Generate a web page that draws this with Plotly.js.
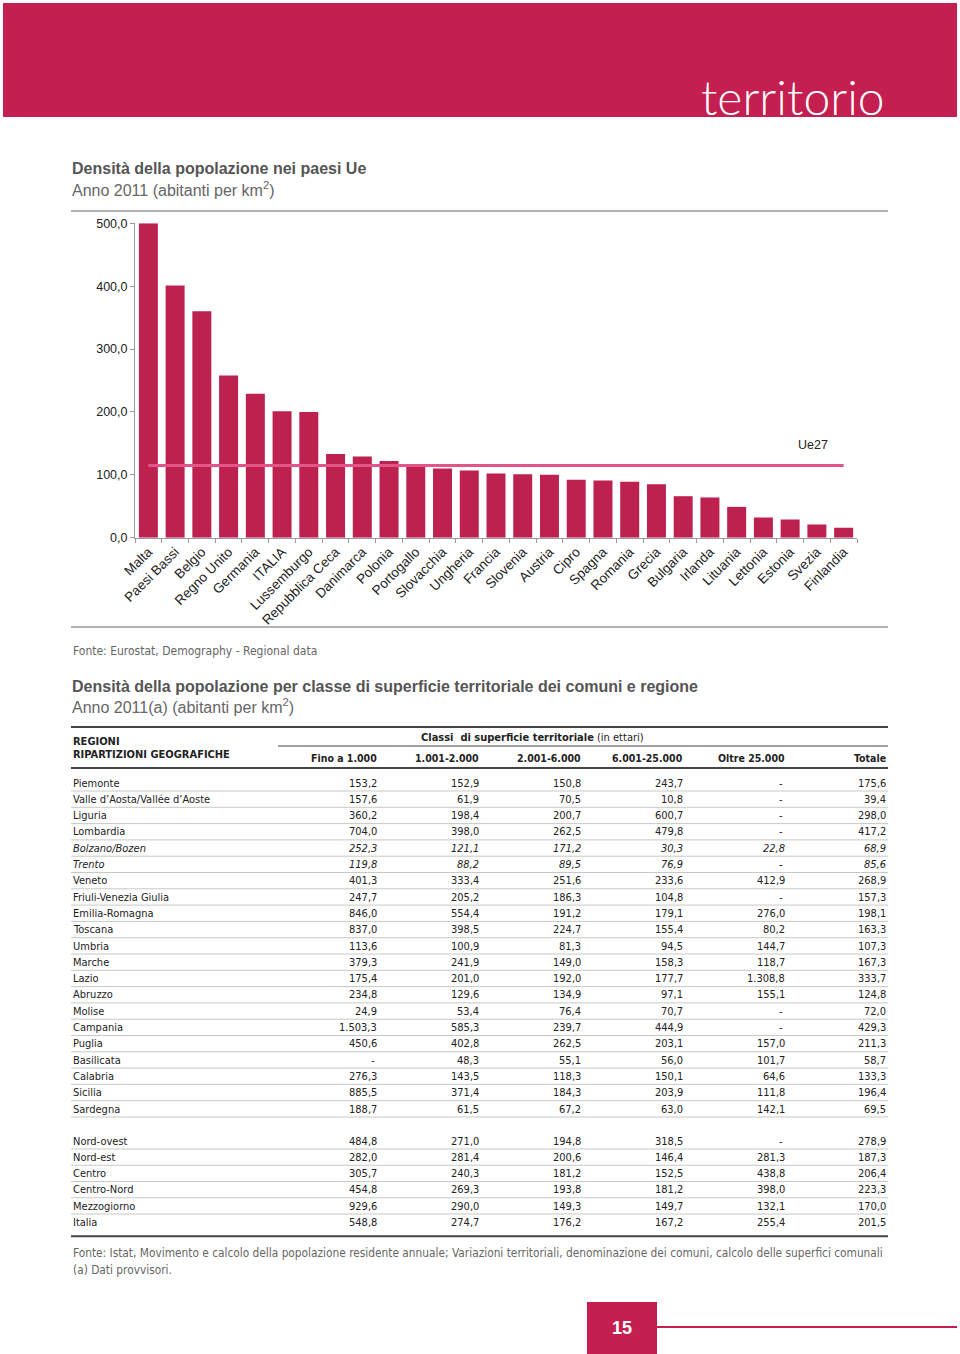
<!DOCTYPE html>
<html>
<head>
<meta charset="utf-8">
<script src="https://cdn.plot.ly/plotly-3.0.1.min.js"></script>
<style>
html,body{margin:0;padding:0;background:#fff;}
#chart{width:960px;height:1354px;}
</style>
</head>
<body>
<div id="chart"></div>
<script>
// ---------- Chart data ----------
const countries = ["Malta","Paesi Bassi","Belgio","Regno Unito","Germania","ITALIA","Lussemburgo","Repubblica Ceca","Danimarca","Polonia","Portogallo","Slovacchia","Ungheria","Francia","Slovenia","Austria","Cipro","Spagna","Romania","Grecia","Bulgaria","Irlanda","Lituania","Lettonia","Estonia","Svezia","Finlandia"];
const density = [500,401,360,258,229,201,200,133,129,122,115,110,107,102,101,100,92,91,89,85,66,64,49,32,29,21,16];
const ue27Label = "Ue27";
const ue27Value = 115;
const yTicks = [0,100,200,300,400,500];

// ---------- Table data ----------
const colHeaders = ["Fino a 1.000","1.001-2.000","2.001-6.000","6.001-25.000","Oltre 25.000","Totale"];
const regions = ["Piemonte","Valle d’Aosta/Vallée d’Aoste","Liguria","Lombardia","Bolzano/Bozen","Trento","Veneto","Friuli-Venezia Giulia","Emilia-Romagna","Toscana","Umbria","Marche","Lazio","Abruzzo","Molise","Campania","Puglia","Basilicata","Calabria","Sicilia","Sardegna"];
const italicRegions = ["Bolzano/Bozen","Trento"];
const regFino  = [153.2,157.6,360.2,704.0,252.3,119.8,401.3,247.7,846.0,837.0,113.6,379.3,175.4,234.8,24.9,1503.3,450.6,null,276.3,885.5,188.7];
const reg1001  = [152.9,61.9,198.4,398.0,121.1,88.2,333.4,205.2,554.4,398.5,100.9,241.9,201.0,129.6,53.4,585.3,402.8,48.3,143.5,371.4,61.5];
const reg2001  = [150.8,70.5,200.7,262.5,171.2,89.5,251.6,186.3,191.2,224.7,81.3,149.0,192.0,134.9,76.4,239.7,262.5,55.1,118.3,184.3,67.2];
const reg6001  = [243.7,10.8,600.7,479.8,30.3,76.9,233.6,104.8,179.1,155.4,94.5,158.3,177.7,97.1,70.7,444.9,203.1,56.0,150.1,203.9,63.0];
const regOltre = [null,null,null,null,22.8,null,412.9,null,276.0,80.2,144.7,118.7,1308.8,155.1,null,null,157.0,101.7,64.6,111.8,142.1];
const regTot   = [175.6,39.4,298.0,417.2,68.9,85.6,268.9,157.3,198.1,163.3,107.3,167.3,333.7,124.8,72.0,429.3,211.3,58.7,133.3,196.4,69.5];

const areas = ["Nord-ovest","Nord-est","Centro","Centro-Nord","Mezzogiorno","Italia"];
const areaFino  = [484.8,282.0,305.7,454.8,929.6,548.8];
const area1001  = [271.0,281.4,240.3,269.3,290.0,274.7];
const area2001  = [194.8,200.6,181.2,193.8,149.3,176.2];
const area6001  = [318.5,146.4,152.5,181.2,149.7,167.2];
const areaOltre = [null,281.3,438.8,398.0,132.1,255.4];
const areaTot   = [278.9,187.3,206.4,223.3,170.0,201.5];

// ---------- Layout helpers ----------
const W = 960, H = 1354;
const px = x => x / W;
const py = y => 1 - y / H;
const CRIMSON = "#c41f50";
const BAR = "#bd2150";
const PINK = "#e35488";
const SANS = "Liberation Sans, Arial, Helvetica, sans-serif";
const NARROW = "DejaVu Sans Condensed, Liberation Sans Narrow, Arial Narrow, sans-serif";

function fmt(v){
  if (v === null || v === undefined) return "-";
  const s = v.toFixed(1).split(".");
  const int = s[0].replace(/\B(?=(\d{3})+(?!\d))/g, ".");
  return int + "," + s[1];
}

const shapes = [];
const ann = [];

function hline(x0,x1,y,color,width){
  shapes.push({type:"line",xref:"paper",yref:"paper",x0:px(x0),x1:px(x1),y0:py(y),y1:py(y),line:{color:color,width:width}});
}
function rect(x0,y0,x1,y1,color){
  shapes.push({type:"rect",xref:"paper",yref:"paper",x0:px(x0),x1:px(x1),y0:py(y1),y1:py(y0),fillcolor:color,line:{width:0},layer:"below"});
}
function text(t,x,y,opts){
  ann.push(Object.assign({text:t,xref:"paper",yref:"paper",x:px(x),y:py(y),showarrow:false,
    xanchor:"left",yanchor:"middle",font:{family:SANS,size:12,color:"#222"}},opts||{}));
}

// Banner
rect(3,3,957,117,CRIMSON);
text("territorio",887,118,{xanchor:"right",yanchor:"bottom",yshift:-9,font:{family:"Lato, Open Sans, sans-serif",size:48,color:"#ffffff",weight:300}});

// Chart titles
text("<b>Densità della popolazione nei paesi Ue</b>",70,169,{font:{family:SANS,size:16,color:"#555"}});
text("Anno 2011 (abitanti per km<sup>2</sup>)",70,189,{font:{family:SANS,size:16,color:"#666"}});
hline(71,888,211,"#9a9a9a",1.5);
hline(71,888,627,"#9a9a9a",1.5);
text(ue27Label,813,445,{xanchor:"center",font:{family:SANS,size:12.5,color:"#222"}});
text("Fonte: Eurostat, Demography - Regional data",71,651,{font:{family:NARROW,size:12,color:"#666"}});

// Table titles
text("<b>Densità della popolazione per classe di superficie territoriale dei comuni e regione</b>",70,686,{font:{family:SANS,size:16,color:"#555"}});
text("Anno 2011(a) (abitanti per km<sup>2</sup>)",70,706,{font:{family:SANS,size:16,color:"#666"}});

// Table header
hline(71,888,727,"#444",2);
text("<b>REGIONI</b>",71,741,{font:{family:NARROW,size:11,color:"#222"}});
text("<b>RIPARTIZIONI GEOGRAFICHE</b>",71,754,{font:{family:NARROW,size:11,color:"#222"}});
text("<b>Classi  di superficie territoriale</b> (in ettari)",532,737,{xanchor:"center",font:{family:NARROW,size:11,color:"#222"}});
hline(278,888,746,"#444",1);
const colRight = [379,481,583,685,787,888];
colHeaders.forEach((h,i)=>text("<b>"+h+"</b>",colRight[i],758,{xanchor:"right",font:{family:NARROW,size:10.5,color:"#222"}}));
hline(71,888,768,"#444",2);

// Table body
function addRows(names, cols, y0, step, lastThick){
  names.forEach((name,i)=>{
    const y = y0 + i*step;
    const it = italicRegions.indexOf(name) >= 0;
    const f = {family:NARROW,size:11,color:"#222",style: it ? "italic" : "normal"};
    text(name,71,y,{font:f});
    cols.forEach((col,c)=>{
      const v = col[i];
      text(fmt(v),colRight[c] - (v===null?2:0),y,{xanchor:"right",font:f});
    });
    if (lastThick && i === names.length-1) hline(71,888,y+14,"#444",2);
    else hline(71,888,y+8,"#c8c8c8",1);
  });
}
addRows(regions,[regFino,reg1001,reg2001,reg6001,regOltre,regTot],783,16.3,false);
addRows(areas,[areaFino,area1001,area2001,area6001,areaOltre,areaTot],1141,16.25,true);

text("Fonte: Istat, Movimento e calcolo della popolazione residente annuale; Variazioni territoriali, denominazione dei comuni, calcolo delle superfici comunali",71,1253,{font:{family:NARROW,size:11.8,color:"#666"}});
text("(a) Dati provvisori.",71,1270,{font:{family:NARROW,size:11.8,color:"#666"}});

// Page number
rect(587,1302,657,1354,CRIMSON);
hline(657,957,1327,CRIMSON,2);
text("<b>15</b>",622,1328,{xanchor:"center",font:{family:SANS,size:18,color:"#ffffff"}});

// ---------- Traces ----------
const traces = [
  {type:"bar",x:countries,y:density,marker:{color:BAR},hoverinfo:"x+y",showlegend:false},
  {type:"scatter",mode:"lines",x:countries,y:countries.map(()=>ue27Value),line:{color:PINK,width:3},name:ue27Label,showlegend:false}
];

const layout = {
  width:W,height:H,
  margin:{l:0,r:0,t:0,b:0,autoexpand:false},
  paper_bgcolor:"#fff",plot_bgcolor:"rgba(0,0,0,0)",
  separators:",.",
  bargap:0.29,
  showlegend:false,
  xaxis:{domain:[px(135),px(857)],anchor:"y",showline:true,linecolor:"#999",linewidth:1,
    ticks:"outside",tickson:"boundaries",ticklen:4,tickcolor:"#999",tickangle:-45,
    tickfont:{family:SANS,size:13.5,color:"#222"},showgrid:false,zeroline:false,fixedrange:true},
  yaxis:{domain:[py(537.7),py(223.3)],range:[0,500],anchor:"x",showline:true,linecolor:"#999",linewidth:1,
    ticks:"outside",ticklen:4,tickcolor:"#999",tickvals:yTicks,tickformat:".1f",
    tickfont:{family:SANS,size:12.5,color:"#222"},showgrid:false,zeroline:false,fixedrange:true},
  shapes:shapes,
  annotations:ann
};

Plotly.newPlot("chart",traces,layout,{displayModeBar:false,staticPlot:true});
</script>
</body>
</html>
